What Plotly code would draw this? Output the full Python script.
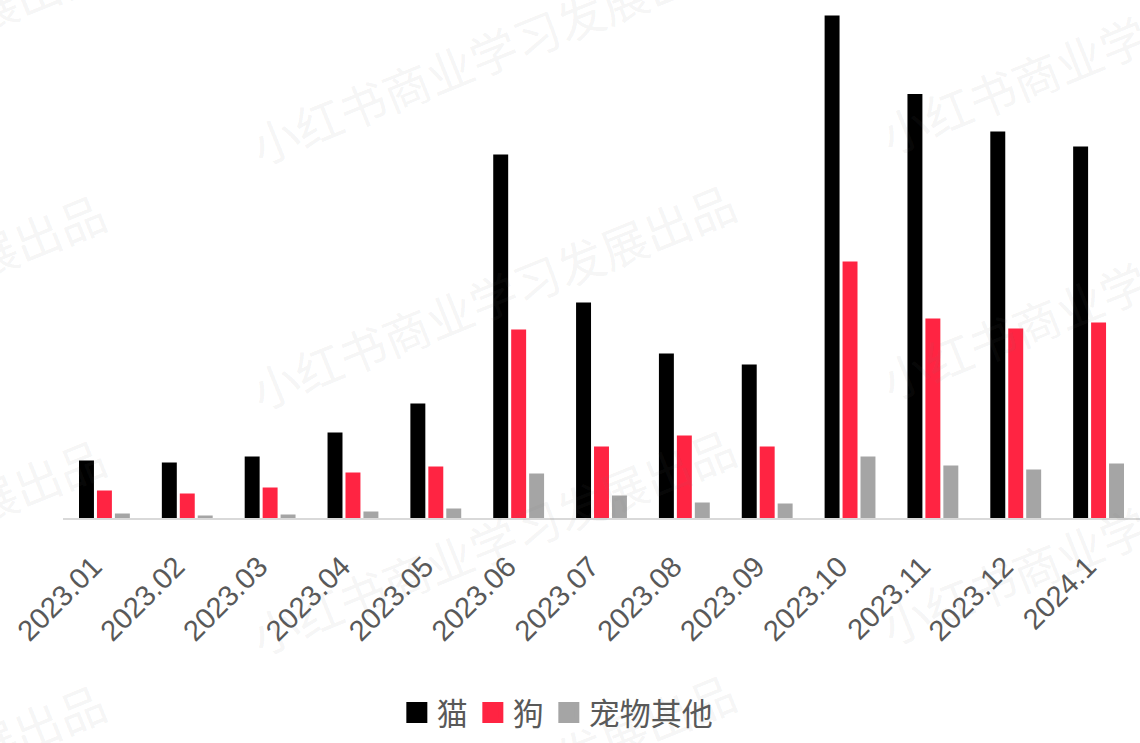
import plotly.graph_objects as go

categories = ["2023.01", "2023.02", "2023.03", "2023.04", "2023.05", "2023.06", "2023.07",
              "2023.08", "2023.09", "2023.10", "2023.11", "2023.12", "2024.1"]
cat_values = [57.5, 55.5, 61.5, 85.5, 114.5, 363.5, 215.5, 164.5, 153.5, 502.5, 424, 386.5, 371.5]
dog_values = [27.5, 24.5, 30.5, 45.5, 51.5, 188.5, 71.5, 82.5, 71.5, 256.5, 199.5, 189.5, 195.5]
other_values = [4.5, 2.5, 3.5, 6.5, 9.5, 44.5, 22.5, 15.5, 14.5, 61.5, 52.5, 48.5, 54.5]
series_names = ["猫", "狗", "宠物其他"]
series_colors = ["#000000", "#FF2442", "#A5A5A5"]
watermark_text = "小红书商业学习发展出品"

W, H = 1140, 743
ML, MR, MT, MB = 63, 0, 0, 225
PW, PH = W - ML - MR, H - MT - MB

fig = go.Figure()
for name, vals, col in zip(series_names, [cat_values, dog_values, other_values], series_colors):
    fig.add_trace(go.Bar(x=categories, y=vals, name=name, marker=dict(color=col, line=dict(width=0)),
                         showlegend=False))
for name, col in zip(series_names, series_colors):
    fig.add_trace(go.Scatter(x=[None], y=[None], mode="markers", name=name,
                             marker=dict(symbol="square", size=16, color=col,
                                         line=dict(color=col, width=5))))

# watermark annotations (tiled)
def px2paper(px, py):
    return (px - ML) / PW, (H - MB - py) / PH

anns = []
c0 = (492, 295)
for j in (-1, 0, 1):
    for i in range(-3, 4):
        cx = c0[0] + j * 630
        cy = c0[1] + i * 245 - j * 255
        if -300 < cx < 1450 and -150 < cy < 900:
            x, y = px2paper(cx, cy)
            anns.append(dict(x=x, y=y, xref="paper", yref="paper", text=watermark_text,
                             showarrow=False, textangle=-22,
                             font=dict(family="Noto Sans CJK SC", size=47,
                                       color="rgba(120,120,120,0.085)"),
                             xanchor="center", yanchor="middle"))

fig.update_layout(
    width=W, height=H,
    margin=dict(l=ML, r=MR, t=MT, b=MB),
    paper_bgcolor="white", plot_bgcolor="white",
    barmode="group", bargap=0.35, bargroupgap=0.167,
    font=dict(family="Liberation Sans, Arial, Noto Sans CJK SC", color="#595959"),
    legend=dict(orientation="h", x=0.459, y=-0.376, xanchor="center", yanchor="middle",
                font=dict(size=31, family="Noto Sans CJK SC, Liberation Sans", color="#595959"),
                itemsizing="trace", bgcolor="rgba(0,0,0,0)"),
    annotations=anns,
)
fig.update_xaxes(type="category", categoryorder="array", categoryarray=categories,
                 tickangle=-45, tickfont=dict(size=29, color="#595959", family="Liberation Sans, Arial"),
                 showline=True, linecolor="#D9D9D9", linewidth=2, ticks="", showgrid=False,
                 ticklabelstandoff=18, ticklabelshift=-11)
fig.update_yaxes(range=[0, 518], visible=False, showgrid=False, zeroline=False)

fig.write_html("out.html", config={"displayModeBar": False},
               post_script="document.body.style.margin='0';")
